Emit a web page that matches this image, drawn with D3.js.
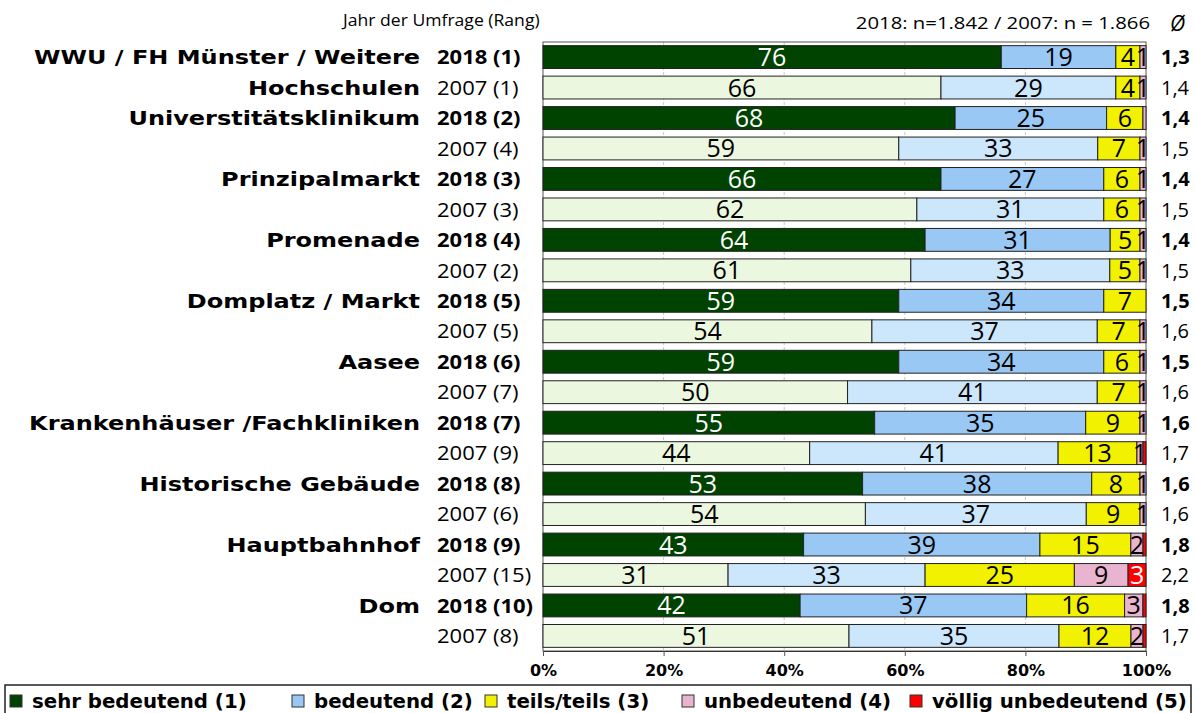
<!DOCTYPE html>
<html>
<head>
<meta charset="utf-8">
<script src="https://cdn.jsdelivr.net/npm/d3@7"></script>
<style>
  body { margin: 0; background: #fff; }
  svg { display: block; }
</style>
</head>
<body>
<svg id="chart"></svg>
<script>
// data
const places = ["WWU / FH Münster / Weitere", "Universtitätsklinikum", "Prinzipalmarkt", "Promenade",
  "Domplatz / Markt", "Aasee", "Krankenhäuser /Fachkliniken", "Historische Gebäude", "Hauptbahnhof", "Dom"];
const yearLabels = ["2018 (1)", "2007 (1)", "2018 (2)", "2007 (4)", "2018 (3)", "2007 (3)", "2018 (4)", "2007 (2)",
  "2018 (5)", "2007 (5)", "2018 (6)", "2007 (7)", "2018 (7)", "2007 (9)", "2018 (8)", "2007 (6)",
  "2018 (9)", "2007 (15)", "2018 (10)", "2007 (8)"];
const seriesNames = ["sehr bedeutend (1)", "bedeutend (2)", "teils/teils (3)", "unbedeutend (4)", "völlig unbedeutend (5)"];
const sehrBedeutend = [76, 66, 68, 59, 66, 62, 64, 61, 59, 54, 59, 50, 55, 44, 53, 54, 43, 31, 42, 51];
const bedeutend     = [19, 29, 25, 33, 27, 31, 31, 33, 34, 37, 34, 41, 35, 41, 38, 37, 39, 33, 37, 35];
const teilsTeils    = [4, 4, 6, 7, 6, 6, 5, 5, 7, 7, 6, 7, 9, 13, 8, 9, 15, 25, 16, 12];
const unbedeutend   = [1, 1, 0.5, 1, 1, 1, 1, 1, 0, 1, 1, 1, 1, 1, 1, 1, 2, 9, 3, 2];
const voellig       = [0, 0, 0, 0, 0, 0, 0, 0, 0, 0, 0, 0, 0, 0.5, 0, 0, 0.5, 3, 0.5, 0.5];
const means = ["1,3", "1,4", "1,4", "1,5", "1,4", "1,5", "1,4", "1,5", "1,5", "1,6",
  "1,5", "1,6", "1,6", "1,7", "1,6", "1,6", "1,8", "2,2", "1,8", "1,7"];
const xTicks = [0, 20, 40, 60, 80, 100];

const W = 1195, H = 713;
const svg = d3.select("#chart").attr("width", W).attr("height", H);

const x = d3.scaleLinear().domain([0, 100]).range([543, 1146]);
const y = d3.scaleBand().domain(d3.range(20)).range([42, 651]).paddingInner(0.25).paddingOuter(0.12);

// the source picture is stretched sideways, so texts get a horizontal scale
const stretched = (sel, px, py, sx) => sel.attr("transform", (d, i) =>
  `translate(${typeof px === "function" ? px(d, i) : px},${typeof py === "function" ? py(d, i) : py}) scale(${sx},1)`);

// colours: 2018 rows darker, 2007 rows lighter for the first two series
const fill2018 = ["#004200", "#99c8f5", "#f2f200", "#e8b4d0", "#ff0000"];
const fill2007 = ["#ebf7df", "#cce6fb", "#f2f200", "#e8b4d0", "#ff0000"];
const labelCol2018 = ["#fff", "#000", "#000", "#000", "#fff"];
const labelCol2007 = ["#000", "#000", "#000", "#000", "#fff"];

const rows = d3.range(20).map(i => {
  const vals = [sehrBedeutend[i], bedeutend[i], teilsTeils[i], unbedeutend[i], voellig[i]];
  const total = d3.sum(vals);
  let acc = 0;
  return vals.map((v, k) => {
    const seg = { row: i, k, v, x0: acc / total * 100, x1: (acc + v) / total * 100 };
    acc += v;
    return seg;
  });
});

// gridlines
svg.append("g").selectAll("line").data(xTicks.slice(1, -1)).join("line")
  .attr("x1", d => x(d)).attr("x2", d => x(d))
  .attr("y1", 42).attr("y2", 651)
  .attr("stroke", "#c8c8c8").attr("stroke-dasharray", "3,2");

// plot box
svg.append("rect").attr("x", x(0)).attr("y", 42).attr("width", x(100) - x(0)).attr("height", 609)
  .attr("fill", "none").attr("stroke", "#555");

// bars
const segs = rows.flat();
svg.append("g").selectAll("rect").data(segs.filter(d => d.v > 0)).join("rect")
  .attr("x", d => x(d.x0)).attr("width", d => x(d.x1) - x(d.x0))
  .attr("y", d => y(d.row)).attr("height", y.bandwidth())
  .attr("fill", d => (d.row % 2 === 0 ? fill2018 : fill2007)[d.k])
  .attr("stroke", "#222").attr("stroke-width", 1);

// value labels
svg.append("g").selectAll("text").data(segs.filter(d => d.v >= 1)).join("text")
  .attr("x", d => (x(d.x0) + x(d.x1)) / 2).attr("y", d => y(d.row) + y.bandwidth() / 2)
  .attr("text-anchor", "middle").attr("dy", "0.36em")
  .attr("font-family", "'Open Sans', sans-serif").attr("font-size", 25)
  .attr("fill", d => (d.row % 2 === 0 ? labelCol2018 : labelCol2007)[d.k])
  .text(d => d.v);

const rowMid = i => y(i) + y.bandwidth() / 2;

// category labels
const catLines = [];
places.forEach((p, j) => catLines.push({ text: p, row: j * 2 }));
catLines.push({ text: "Hochschulen", row: 1 });
svg.append("g").selectAll("text").data(catLines).join("text")
  .call(stretched, 420, d => rowMid(d.row), 1.2)
  .attr("dy", "0.36em")
  .attr("text-anchor", "end")
  .attr("font-family", "'DejaVu Sans', sans-serif").attr("font-weight", "bold").attr("font-size", 20)
  .text(d => d.text);

// year labels
svg.append("g").selectAll("text").data(yearLabels).join("text")
  .call(stretched, 437, (d, i) => rowMid(i), 1.1)
  .attr("dy", "0.36em")
  .attr("font-family", "'Open Sans', sans-serif").attr("font-size", 20)
  .attr("font-weight", (d, i) => i % 2 === 0 ? "bold" : "normal")
  .text(d => d);

// mean values
svg.append("g").selectAll("text").data(means).join("text")
  .attr("x", 1161).attr("y", (d, i) => rowMid(i)).attr("dy", "0.36em")
  .attr("font-family", "'Open Sans', sans-serif").attr("font-size", 20)
  .attr("font-weight", (d, i) => i % 2 === 0 ? "bold" : "normal")
  .text(d => d);

// header texts
svg.append("text").call(stretched, 343, 26, 1.1)
  .attr("font-family", "'Open Sans', sans-serif").attr("font-size", 16)
  .text("Jahr der Umfrage (Rang)");
svg.append("text").call(stretched, 1150, 29, 1.27).attr("text-anchor", "end")
  .attr("font-family", "'Open Sans', sans-serif").attr("font-size", 16)
  .text("2018: n=1.842 / 2007: n = 1.866");
svg.append("text").attr("x", 1170).attr("y", 31)
  .attr("font-family", "'Open Sans', sans-serif").attr("font-size", 21).attr("font-style", "italic")
  .text("Ø");

// x axis
const axis = svg.append("g").attr("transform", "translate(0,651)")
  .call(d3.axisBottom(x).tickValues(xTicks).tickSize(5).tickFormat(d => d + "%"));
axis.select(".domain").attr("stroke", "#333");
axis.selectAll(".tick line").attr("stroke", "#555");
axis.selectAll(".tick text")
  .attr("font-family", "'DejaVu Sans', sans-serif").attr("font-weight", "bold").attr("font-size", 16)
  .attr("fill", "#000").attr("dy", "1.05em");

// legend
const legend = svg.append("g");
legend.append("rect").attr("x", 5).attr("y", 685).attr("width", 1186).attr("height", 40)
  .attr("fill", "#fff").attr("stroke", "#222").attr("stroke-width", 1.5);
const legendX = [10, 292, 485, 682, 910];
const legendFill = ["#004200", "#99c8f5", "#f2f200", "#e8b4d0", "#ff0000"];
const li = legend.selectAll("g").data(seriesNames).join("g")
  .attr("transform", (d, i) => `translate(${legendX[i]},701)`);
li.append("rect").attr("x", 0).attr("y", -6).attr("width", 12).attr("height", 12)
  .attr("fill", (d, i) => legendFill[i]).attr("stroke", "#333");
li.append("text").call(stretched, 22, 0, 1.04).attr("dy", "0.36em")
  .attr("font-family", "'DejaVu Sans', sans-serif").attr("font-weight", "bold").attr("font-size", 19)
  .text(d => d);
</script>
</body>
</html>
